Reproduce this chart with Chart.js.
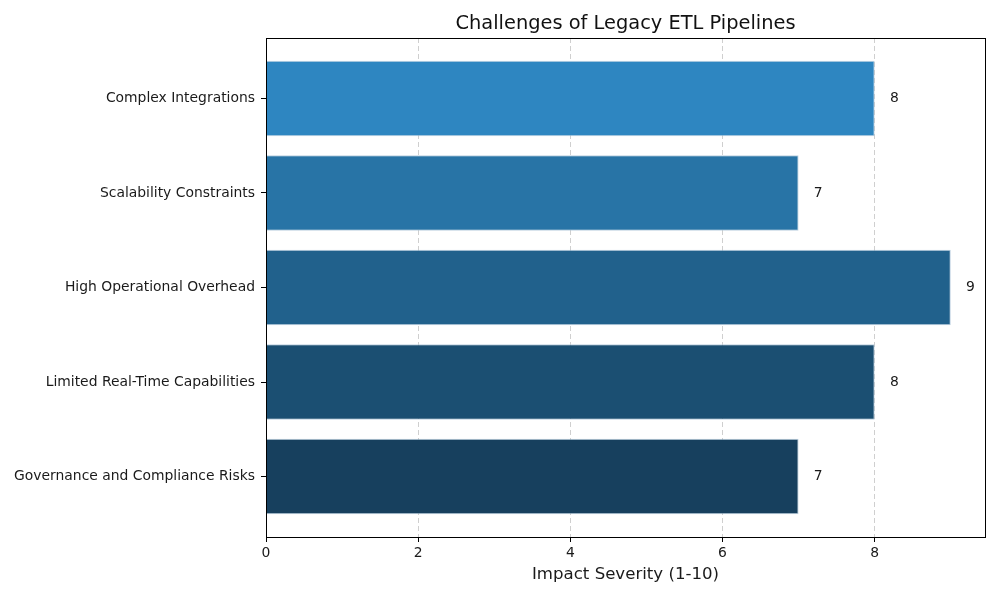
<!DOCTYPE html>
<html lang="en">
<head>
    <meta charset="UTF-8">
    <title>Challenges of Legacy ETL Pipelines</title>
    <script src="https://cdn.jsdelivr.net/npm/chart.js"></script>
    <style>
        html, body { margin: 0; padding: 0; background: #fff; }
        #wrap { width: 1000px; height: 600px; }
    </style>
</head>
<body>
    <div id="wrap"><canvas id="etlChart" width="1000" height="600"></canvas></div>

    <script>
        const challenges = [
            'Complex Integrations',
            'Scalability Constraints',
            'High Operational Overhead',
            'Limited Real-Time Capabilities',
            'Governance and Compliance Risks'
        ];
        const severity = [8, 7, 9, 8, 7];
        const barColors = ['#2E86C1', '#2874A6', '#21618C', '#1B4F72', '#17405E'];
        const xTicks = [0, 2, 4, 6, 8];

        const font = "'DejaVu Sans', sans-serif";

        // bars sit at index 0..4 on a linear axis so spacing matches the original margins
        const points = severity.map((v, i) => ({ x: v, y: i }));

        const frameAndLabels = {
            id: 'frameAndLabels',
            afterDatasetsDraw(chart) {
                const { ctx, scales } = chart;
                ctx.save();
                ctx.font = '13.9px ' + font;
                ctx.fillStyle = '#1a1a1a';
                ctx.textAlign = 'left';
                ctx.textBaseline = 'middle';
                severity.forEach((v, i) => {
                    ctx.fillText(String(v), scales.x.getPixelForValue(v + 0.2), scales.y.getPixelForValue(i));
                });
                ctx.restore();
            },
            afterDraw(chart) {
                const { ctx, chartArea } = chart;
                ctx.save();
                ctx.strokeStyle = '#000';
                ctx.lineWidth = 1;
                ctx.strokeRect(chartArea.left + 0.5, chartArea.top + 0.5,
                    chartArea.right - chartArea.left, chartArea.bottom - chartArea.top);
                ctx.font = '19.4px ' + font;
                ctx.fillStyle = '#111';
                ctx.textAlign = 'center';
                ctx.textBaseline = 'bottom';
                ctx.fillText('Challenges of Legacy ETL Pipelines', (chartArea.left + chartArea.right) / 2, chartArea.top - 4);
                ctx.restore();
            }
        };

        new Chart(document.getElementById('etlChart'), {
            type: 'bar',
            data: {
                datasets: [{
                    data: points,
                    backgroundColor: barColors,
                    borderColor: 'rgba(170, 195, 215, 0.8)',
                    borderWidth: 1,
                    categoryPercentage: 1,
                    barPercentage: 0.8
                }]
            },
            options: {
                indexAxis: 'y',
                responsive: false,
                animation: false,
                layout: { padding: { top: 38, right: 15, left: 0, bottom: 13 } },
                plugins: {
                    legend: { display: false },
                    tooltip: { enabled: false }
                },
                scales: {
                    x: {
                        type: 'linear',
                        min: 0,
                        max: 9.45,
                        z: 1,
                        afterBuildTicks(scale) {
                            scale.ticks = xTicks.map(v => ({ value: v }));
                        },
                        afterFit(scale) { scale.height = 50; },
                        border: { display: false, dash: [5, 3] },
                        grid: {
                            color: '#cfcfcf',
                            tickColor: '#000',
                            tickBorderDash: [],
                            tickLength: 5
                        },
                        ticks: {
                            color: '#1a1a1a',
                            font: { family: font, size: 13.9 },
                            padding: 3,
                            maxRotation: 0
                        },
                        title: {
                            display: true,
                            text: 'Impact Severity (1-10)',
                            color: '#1a1a1a',
                            font: { family: font, size: 16.6 },
                            padding: { top: 2, bottom: 2 }
                        }
                    },
                    y: {
                        type: 'linear',
                        min: -0.64,
                        max: 4.64,
                        reverse: true,
                        offset: false,
                        afterBuildTicks(scale) {
                            scale.ticks = challenges.map((_, i) => ({ value: i }));
                        },
                        afterFit(scale) { scale.width = 266; },
                        border: { display: false },
                        grid: {
                            offset: false,
                            drawOnChartArea: false,
                            tickColor: '#000',
                            tickLength: 5
                        },
                        ticks: {
                            color: '#1a1a1a',
                            font: { family: font, size: 13.9 },
                            padding: 6,
                            callback: (v) => challenges[v]
                        }
                    }
                }
            },
            plugins: [frameAndLabels]
        });
    </script>
</body>
</html>
